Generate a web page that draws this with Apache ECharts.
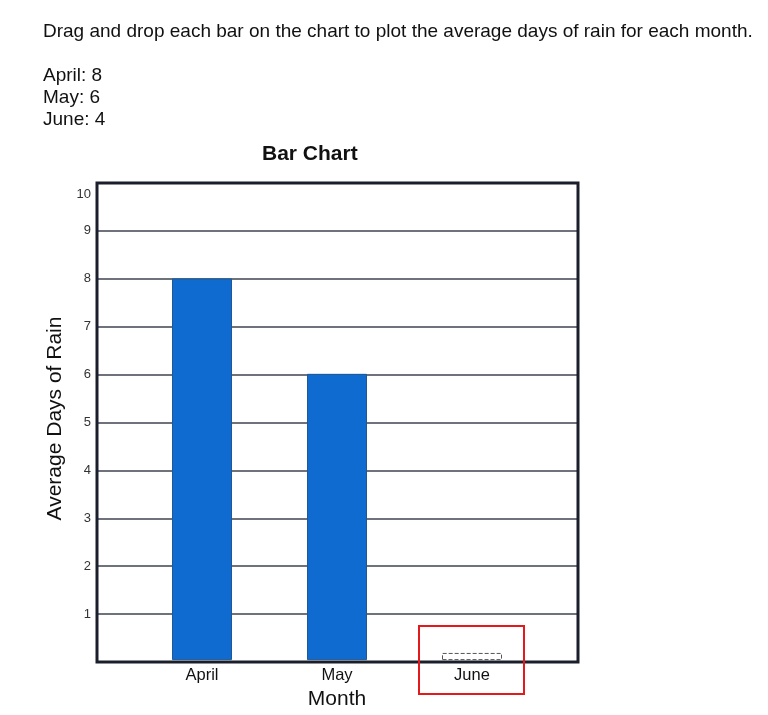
<!DOCTYPE html>
<html>
<head>
<meta charset="utf-8">
<script src="https://cdn.jsdelivr.net/npm/echarts@6/dist/echarts.min.js"></script>
<style>
	body { margin: 0; background: #fff; font-family: "Liberation Sans", Arial, sans-serif; color: #111; }
	#prompt { position: absolute; left: 43px; top: 20px; font-size: 19px; line-height: 22px; }
	#targets { position: absolute; left: 43px; top: 64px; font-size: 19px; line-height: 22px; }
	#chart { position: absolute; left: 0; top: 0; width: 768px; height: 715px; }
</style>
</head>
<body>
<div id="chart"></div>
<div id="prompt">Drag and drop each bar on the chart to plot the average days of rain for each month.</div>
<div id="targets"></div>
<script>
	// data
	var months = ['April', 'May', 'June'];
	var targetDays = [8, 6, 4];
	var plottedDays = [8, 6, 0.15];
	var yTicks = [0, 10, 1]; // min, max, interval

	var html = '';
	for (var i = 0; i < months.length; i++) {
		html += months[i] + ': ' + targetDays[i] + '<br>';
	}
	document.getElementById('targets').innerHTML = html;

	var barData = [];
	for (var i = 0; i < plottedDays.length; i++) {
		var item = { value: plottedDays[i] };
		// last bar has not been dragged yet: dashed placeholder
		if (i == plottedDays.length - 1) {
			item.itemStyle = { color: '#ffffff', borderColor: '#555', borderType: 'dashed', borderWidth: 1 };
		}
		barData.push(item);
	}

	var font = '"Liberation Sans", Arial, sans-serif';
	var myChart = echarts.init(document.getElementById('chart'));
	myChart.setOption({
		animation : false,
		graphic : [{
			type : 'text',
			left : 262,
			top : 144,
			style : { text : 'Bar Chart', font : 'bold 21px ' + font, fill : '#111' }
		}, {
			type : 'rect',
			shape : { x : 419, y : 626, width : 105, height : 68 },
			style : { fill : 'none', stroke : '#e3191c', lineWidth : 2 },
			z : 100
		}],
		grid : [
			{ left : 97, right : 190, top : 183, bottom : 53, show : true, borderColor : '#1b1f2b', borderWidth : 3, z : 10 },
			{ left : 134.5, right : 228.5, top : 183, bottom : 53 }
		],
		xAxis : [
			{ type : 'value', gridIndex : 0, show : false, min : 0, max : 1 },
			{
				type : 'category',
				gridIndex : 1,
				data : months,
				axisLine : { show : false },
				axisTick : { show : false },
				axisLabel : { fontFamily : font, fontSize : 16.5, color : '#111', margin : 7 },
				name : 'Month',
				nameLocation : 'middle',
				nameGap : 24,
				nameTextStyle : { fontFamily : font, fontSize : 21, color : '#111' }
			}
		],
		yAxis : [
			{
				type : 'value',
				gridIndex : 0,
				min : yTicks[0],
				max : yTicks[1],
				interval : yTicks[2],
				axisLine : { show : false },
				axisTick : { show : false },
				splitLine : { showMinLine : false, showMaxLine : false, lineStyle : { color : '#6e727a', width : 2 } },
				axisLabel : {
					fontFamily : font,
					fontSize : 13,
					color : '#333',
					margin : 6,
					formatter : function(v) {
						if (v == 0) return '';
						if (v == yTicks[1]) return '{top|' + v + '}';
						return v;
					},
					rich : { top : { fontFamily : font, fontSize : 13, color : '#333', padding : [22, 0, 0, 0] } }
				},
				name : 'Average Days of Rain',
				nameLocation : 'middle',
				nameGap : 23,
				nameTextStyle : { fontFamily : font, fontSize : 21, color : '#111', padding : [0, 0, 0, 8] }
			},
			{ type : 'value', gridIndex : 1, show : false, min : yTicks[0], max : yTicks[1] }
		],
		series : [{
			type : 'bar',
			xAxisIndex : 1,
			yAxisIndex : 1,
			barWidth : 60,
			data : barData,
			itemStyle : { color : '#106bd1', borderColor : '#1f5894', borderWidth : 1 }
		}]
	});
</script>
</body>
</html>
